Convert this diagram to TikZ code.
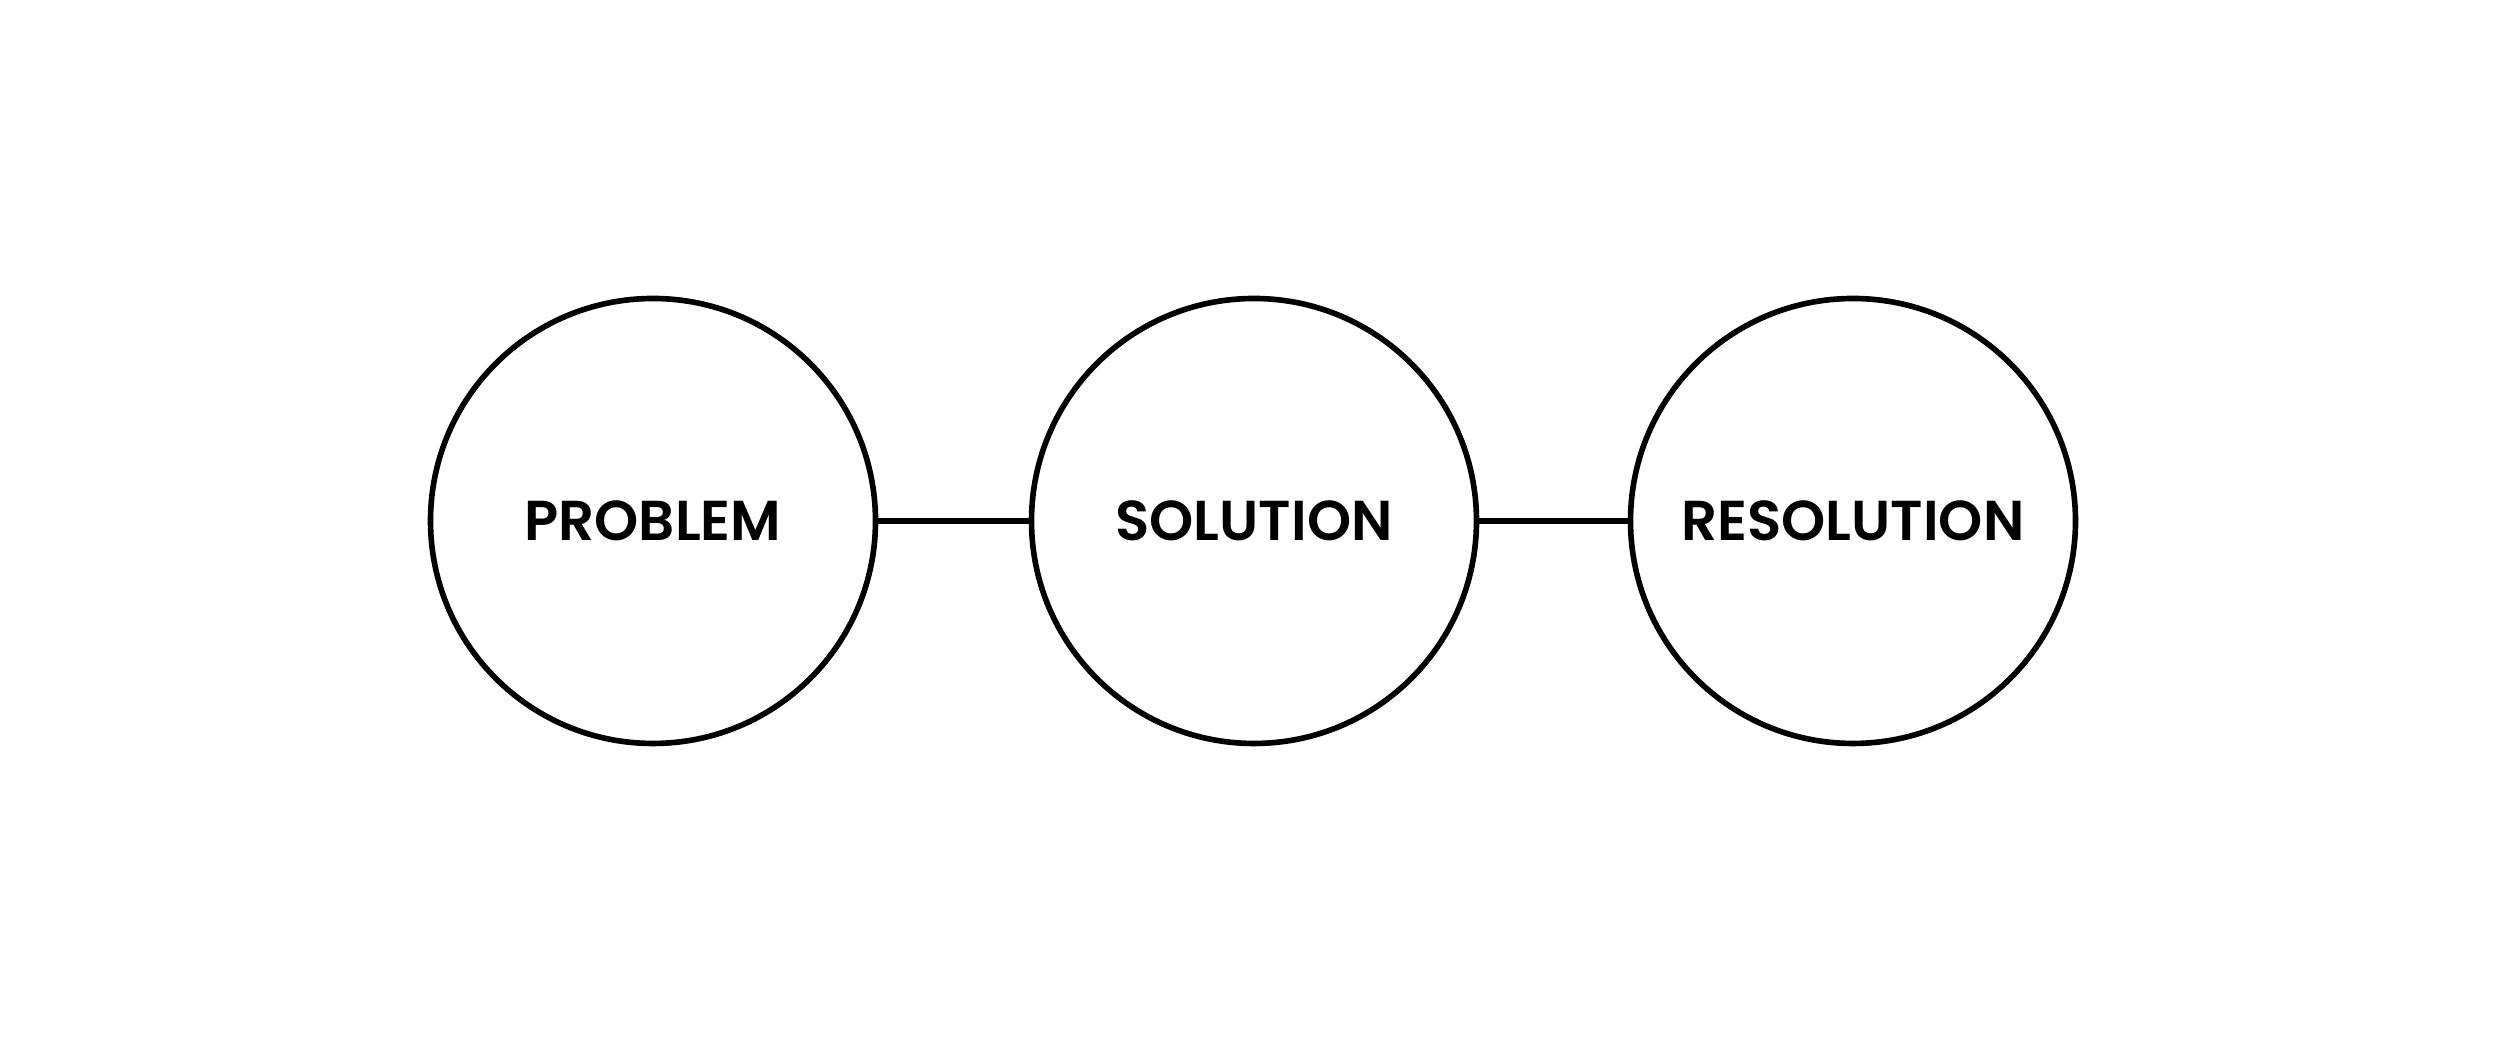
\documentclass[tikz,border=0pt]{standalone}
\usepackage{fontspec}
\setmainfont{Poppins}[UprightFont=* SemiBold, BoldFont=* Bold]
\begin{document}
\begin{tikzpicture}[x=0.1mm,y=0.1mm,
  stage/.style={circle,draw=black,line width=1.6pt,minimum size=44.5mm,inner sep=0pt,
    font=\fontsize{16pt}{19pt}\selectfont},
  link/.style={draw=black,line width=1.6pt}]
\useasboundingbox (0,0) rectangle (2500,1042);
\node[stage] (p) at (653,521) {PROBLEM};
\node[stage] (s) at (1254,521) {SOLUTION};
\node[stage] (r) at (1853,521) {RESOLUTION};
\draw[link] (p.east) -- (s.west);
\draw[link] (s.east) -- (r.west);
\end{tikzpicture}
\end{document}
